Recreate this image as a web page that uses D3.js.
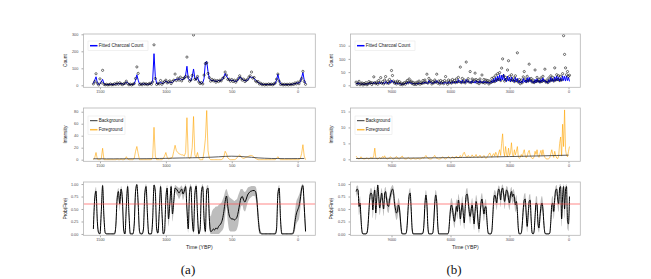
<!DOCTYPE html>
<html>
<head>
<meta charset="utf-8">
<script src="https://cdn.jsdelivr.net/npm/d3@7"></script>
<style>
  body { margin: 0; background: #fff; }
  svg { display: block; }
</style>
</head>
<body>
<script>
// ---- data: record (a), sampled every 10 years (1550 .. -60 YBP)
const yearsA = d3.range(1550, -61, -10)
const countA = [8,22,68,12,2,
  38,15,88,6,3,6,2,4,8,3, 4,9,5,14,6,15,8,4,9,12, 24,10,3,7,2,6,10,40,108,70,
  4,8,3,11,6,9,4,8,12,6, 20,238,40,5,12,8,28,6,16,22, 30,14,20,26,10,22,30,66,28,42,
  30,48,26,40,44,52,166,48,24,32, 58,296,35,38,52,20,10,16,8,60, 128,132,70,45,24,35,26,30,18,28,
  22,30,26,40,46,78,60,34,36,24, 34,22,30,18,30,40,56,42,30,36, 22,30,34,48,56,78,42,46,26,20,
  22,8,12,3,7,2,6,3,8,4, 7,3,8,14,36,66,24,5,8,2, 6,3,6,2,7,3,8,5,14,8,
  18,9,26,40,82,22,6]
const fitA = [10,30,50,15,5,
  8,20,35,10,5,5,4,5,6,5, 5,6,8,10,8,12,10,8,6,10, 20,15,6,5,5,5,8,30,62,30,
  8,6,7,8,8,6,7,6,8,10, 30,186,50,10,8,12,20,10,12,18, 25,18,15,20,15,18,25,35,32,38,
  35,40,32,35,38,60,112,40,30,25, 50,96,40,30,50,25,15,12,15,40, 135,140,80,40,30,28,30,25,22,25,
  28,25,30,35,50,70,55,40,30,28, 30,28,25,22,25,35,50,45,35,30, 28,25,30,40,50,45,48,40,30,25,
  18,12,8,6,5,5,4,5,5,6, 5,6,5,10,30,65,30,8,5,4, 4,5,4,5,4,5,6,8,10,12,
  15,12,20,45,75,30,10]
const fgA = [0,3,12,1,0,
  0,2,19,0,0,0,0,0,0,0, 0,0,0,1,0,0,1,0,0,1, 5,1,0,0,0,0,2,14,22,10,
  0,0,0,0,0,0,0,0,0,0, 4,54,6,0,0,0,0,0,2,6, 12,4,1,2,3,4,14,24,15,12,
  10,9,8,8,6,12,70,5,2,4, 20,72,8,4,12,2,0,0,0,14, 35,82,15,2,0,0,0,0,0,0,
  0,0,0,1,5,14,10,3,1,0, 0,0,0,1,3,6,8,5,3,2, 3,4,5,6,7,7,6,4,2,1,
  0,0,0,0,0,0,0,0,0,0, 0,0,0,0,2,5,2,0,0,0, 0,0,0,0,0,0,0,0,0,0,
  0,0,2,10,25,6,0]
const bgYearsA = d3.range(1550, -51, -50)
const bgA = [1.5,1.5,1.4,1.4,1.5,1.5,1.6,1.6,1.7,1.8,2.0,2.2,2.5,2.8,3.0,3.2,3.4,3.8,4.2,4.8,
  5.5,5.8,5.5,4.8,4.0,3.0,2.4,2.0,1.9,1.8,1.8,1.9,2.0]
// probability of fire, in percent, with its band
const probA = [10,70,86,25,2,
  0,45,97,35,2,0,0,0,0,0, 0,0,15,70,85,60,90,70,8,0, 55,95,40,0,0,0,20,85,99,60,
  5,0,0,10,80,95,40,0,0,0, 30,98,85,10,2,45,95,45,0,5, 70,92,30,60,95,40,65,92,90,86,
  82,86,90,80,86,95,50,10,85,95, 30,5,80,96,40,0,10,85,95,30, 5,88,92,30,5,6,10,8,12,10,
  15,18,22,30,45,65,76,55,38,32, 30,30,28,30,34,45,60,72,75,68, 64,70,78,82,85,86,87,87,85,70,
  35,8,1,0,0,0,0,0,0,0, 0,0,0,0,10,80,92,30,0,0, 0,0,0,0,0,0,0,5,25,40,
  48,55,70,90,97,55,5]
const loA = [2,55,75,12,0,
  0,30,88,20,0,0,0,0,0,0, 0,0,5,55,72,45,80,55,0,0, 40,85,25,0,0,0,8,72,92,45,
  0,0,0,2,65,86,25,0,0,0, 15,90,72,2,0,30,86,30,0,0, 55,82,15,45,86,25,50,84,80,76,
  70,75,80,68,76,86,35,2,72,86, 15,0,65,88,25,0,2,72,86,15, 0,76,82,12,0,0,0,0,0,0,
  0,2,5,8,15,35,55,25,8,5, 5,5,5,6,10,20,40,55,58,48, 45,52,62,68,72,74,76,76,72,52,
  18,0,0,0,0,0,0,0,0,0, 0,0,0,0,2,65,82,15,0,0, 0,0,0,0,0,0,0,0,8,20,
  25,30,50,78,90,35,0]
const hiA = [20,82,94,38,6,
  3,60,100,50,5,2,2,2,2,2, 2,3,28,82,92,75,96,82,18,3, 70,100,55,3,2,3,32,94,100,75,
  12,3,2,20,90,100,55,3,2,2, 45,100,94,20,8,60,100,60,4,14, 82,98,45,75,100,55,78,98,96,94,
  92,94,97,90,94,100,65,20,94,100, 45,14,90,100,55,4,20,94,100,45, 15,96,98,55,35,45,50,52,55,55,
  58,60,62,68,75,85,90,82,75,72, 70,68,66,68,70,78,85,90,90,86, 84,87,92,94,95,96,96,96,95,85,
  52,20,6,2,2,2,2,2,2,2, 2,2,2,3,22,90,98,45,4,2, 2,2,2,2,2,2,3,15,45,65,
  72,78,86,98,100,72,15]

// ---- data: record (b), sampled every 50 years (10800 .. -50 YBP)
const yearsB = d3.range(10800, -51, -50)
const countB = [12,3,8,15,2,6,9,1,7,4,10,2,5,14,8,11,3,9,32,10,
  6,12,4,18,10,29,8,14,5,20,33,9,15,7,22,12,56,37,16,8,
  12,5,16,9,14,3,8,2,6,10,4,12,18,9,24,13,16,6,11,3,
  9,3,12,6,16,4,10,7,18,9,20,11,42,8,26,14,18,5,14,9,
  20,12,42,8,16,5,18,9,14,6,18,33,12,4,20,10,16,8,22,12,
  18,10,24,12,30,14,69,10,26,12,20,9,88,16,25,12,52,10,24,14,
  20,46,22,10,18,6,24,12,39,10,22,8,20,12,18,5,16,10,26,14,
  30,14,38,20,44,22,48,18,65,100,36,16,30,22,58,93,34,18,40,20,
  28,14,36,18,123,12,22,6,20,10,32,52,24,14,34,16,80,20,26,12,
  20,10,58,14,30,16,22,12,28,14,34,18,61,12,20,10,28,16,36,20,
  30,16,66,20,40,22,36,18,34,20,44,188,117,66,40,52,34,38]
const fitB = [8,4,10,5,7,3,6,4,5,3,6,4,7,5,10,6,8,5,12,7,
  9,5,10,6,12,7,10,5,11,6,14,8,10,6,15,9,20,12,14,8,
  10,6,9,5,8,4,6,3,5,4,8,5,12,7,14,8,10,5,8,4,
  7,4,8,5,10,6,8,5,11,7,13,8,10,6,18,10,12,6,10,7,
  15,9,18,10,12,6,12,7,10,6,13,8,10,6,14,8,12,7,15,9,
  14,8,16,9,22,12,15,8,20,10,14,8,22,12,18,10,14,8,18,10,
  14,8,18,10,15,8,18,9,14,8,16,9,15,8,13,7,12,8,18,10,
  25,12,30,14,35,18,40,16,38,20,42,18,26,14,35,16,30,14,32,15,
  22,12,30,14,26,10,18,8,16,9,26,12,20,10,28,12,30,14,20,10,
  15,8,22,10,25,12,18,9,22,12,28,14,20,10,16,8,22,12,30,15,
  25,14,32,16,35,18,30,15,28,16,36,18,34,16,35,18,30,15]
const fgB = [1.0,0.6,0.2,0.1,0.3,0.8,0.4,0.1,0.2,0.1,0.3,0.5,0.2,0.1,0.3,0.6,0.4,0.3,1.2,3.5,
  0.6,0.2,0.1,0.3,0.6,0.2,0.4,0.9,0.5,1.1,0.4,0.2,0.1,0.3,0.5,0.8,0.4,0.2,0.1,0.3,
  0.5,0.9,0.4,0.2,0.1,0.3,0.8,1.0,0.4,0.2,0.1,0.1,0.3,0.6,0.3,0.1,0.1,0.2,0.4,0.2,
  0.1,0.1,0.2,0.3,0.1,0.1,0.2,0.4,0.6,0.3,0.8,1.2,0.7,0.3,0.2,0.1,0.1,0.2,0.5,0.9,
  1.2,0.6,0.3,0.2,0.1,0.1,0.2,0.4,0.8,0.5,0.2,0.1,0.3,0.6,0.9,0.4,0.2,0.5,0.8,0.4,
  0.3,0.6,1.0,0.5,0.4,0.8,1.2,0.6,0.9,1.8,2.2,1.4,0.8,0.6,1.2,0.9,0.5,0.8,1.4,0.9,
  0.6,1.0,1.5,0.8,0.5,0.9,1.3,0.7,0.4,0.8,1.2,0.6,0.3,0.5,1.0,1.6,2.0,1.2,0.6,1.4,
  1.8,1.0,2.2,1.5,0.6,2.0,3.0,1.2,5.0,8.0,2.5,1.0,4.0,1.5,0.8,3.5,1.2,2.0,5.2,1.5,
  0.8,3.0,1.4,2.5,4.0,0.8,0.3,0.6,1.5,0.8,2.0,3.0,1.2,0.5,1.0,2.2,2.8,1.4,0.6,0.3,
  0.2,0.8,2.5,1.5,3.0,1.0,0.6,1.8,2.8,1.2,3.0,1.4,0.6,0.2,0.1,0.1,0.2,0.5,1.8,3.0,
  1.5,0.6,2.5,1.2,0.4,0.2,1.0,5.0,7.0,1.0,11,4.0,15.5,3.0,1.2,0.8,2.5,4.0]
const bgYearsB = d3.range(10800, -1, -600)
const bgB = [0.25,0.28,0.3,0.33,0.36,0.4,0.44,0.48,0.52,0.58,0.64,0.7,0.78,0.86,0.94,1.02,1.1,1.2,1.3]
const probB = [85,90,88,55,62,30,5,0,0,0,0,2,15,45,75,82,80,48,75,88,
  42,70,98,75,52,68,82,65,50,80,85,70,58,55,68,78,86,90,85,62,
  50,42,45,58,52,30,8,0,0,0,0,2,20,55,78,82,50,10,0,0,
  0,0,0,0,0,0,0,0,2,20,60,78,60,15,0,0,0,0,2,25,
  62,78,65,20,0,0,0,0,0,0,0,0,0,0,3,25,50,58,50,35,
  25,40,55,45,68,55,30,48,62,40,22,55,78,80,65,45,35,48,58,40,
  20,45,65,55,25,10,35,62,70,55,40,52,55,30,5,0,0,0,5,35,
  70,78,72,62,80,90,85,68,88,92,80,65,78,88,85,70,62,78,85,75,
  80,72,58,65,45,10,0,0,2,20,50,68,70,40,15,40,65,68,30,2,
  0,5,35,62,60,20,12,35,55,62,50,20,2,0,0,0,0,2,25,58,
  62,45,70,88,90,70,60,92,95,30,75,95,50,88,95,25,20,75]
const loB = [72,80,75,38,45,15,0,0,0,0,0,0,5,30,62,70,66,32,60,76,
  28,55,88,60,38,52,70,50,36,66,72,56,44,42,54,64,74,80,72,48,
  36,28,32,44,38,15,0,0,0,0,0,0,8,40,66,70,35,2,0,0,
  0,0,0,0,0,0,0,0,0,8,45,66,45,4,0,0,0,0,0,10,
  48,66,50,8,0,0,0,0,0,0,0,0,0,0,0,12,36,44,36,22,
  12,26,40,30,54,40,16,34,48,26,10,40,64,66,50,30,20,34,44,26,
  8,30,50,40,12,2,20,48,56,40,26,38,40,16,0,0,0,0,0,20,
  56,66,58,48,68,80,72,54,76,82,68,50,64,76,72,56,48,64,72,60,
  66,58,44,50,30,2,0,0,0,8,35,54,56,26,4,26,50,54,16,0,
  0,0,20,48,45,8,3,20,40,48,36,8,0,0,0,0,0,0,10,42,
  46,30,54,74,78,54,44,80,84,15,58,84,32,72,82,10,6,56]
const hiB = [94,97,96,70,76,45,14,2,2,2,2,6,26,60,86,92,90,64,86,96,
  58,84,100,88,66,82,92,78,64,90,94,82,72,70,80,90,95,98,94,76,
  64,56,60,72,66,45,18,2,2,2,2,6,32,70,88,92,65,20,3,2,
  2,2,2,2,2,2,2,3,6,32,74,88,74,28,3,2,2,2,6,40,
  76,88,78,34,3,2,2,2,2,2,2,2,2,2,8,38,64,72,64,50,
  40,55,70,60,80,70,45,62,76,55,36,70,90,92,78,60,50,62,72,55,
  35,60,78,70,40,22,50,76,82,70,55,66,70,45,14,3,2,3,14,50,
  82,88,84,75,90,97,94,80,96,99,90,78,88,96,94,82,76,90,94,86,
  90,84,72,78,60,22,3,2,6,34,65,80,82,55,28,55,78,80,45,8,
  3,14,50,76,74,34,24,50,70,76,64,34,8,2,2,2,2,6,40,72,
  76,60,84,96,98,84,75,99,100,48,88,100,68,97,100,42,36,88]

// ---- ticks and reference line
const xTicksA = [1500, 1000, 500, 0]
const xTicksB = [9000, 6000, 3000, 0]
const countTicksA = [0, 100, 200, 300]
const countTicksB = [0, 50, 100, 150]
const intTicksA = [0, 20, 40, 60, 80]
const intTicksB = [0, 5, 10, 15]
const probTicks = [0, 0.25, 0.5, 0.75, 1]
const fireThreshold = 0.6

const svg = d3.select('body').append('svg').attr('width', 651).attr('height', 279)
svg.append('rect').attr('width', 651).attr('height', 279).attr('fill', '#fff')

const FONT = "'Liberation Sans', Arial, Helvetica, sans-serif"
const rows = [
    {y0: 34, y1: 87.3},
    {y0: 108, y1: 161.3},
    {y0: 182, y1: 235.3}
]

const panels = [
    {id: 'a', x0: 83.5, x1: 315.3, xDomain: [1625, -134], xTicks: xTicksA, titleX: 65,
     label: '(a)', labelX: 188,
     years: yearsA, count: countA, fit: fitA, fg: fgA, bgYears: bgYearsA, bg: bgA,
     prob: probA, lo: loA, hi: hiA,
     countDomain: [-11.8, 301.8], countTicks: countTicksA,
     intDomain: [-2.7, 86.2], intTicks: intTicksA},
    {id: 'b', x0: 350.5, x1: 580.3, xDomain: [11085, -600], xTicks: xTicksB, titleX: 331.5,
     label: '(b)', labelX: 454,
     years: yearsB, count: countB, fit: fitB, fg: fgB, bgYears: bgYearsB, bg: bgB,
     prob: probB, lo: loB, hi: hiB,
     countDomain: [-7.6, 194.3], countTicks: countTicksB,
     intDomain: [-0.63, 16.1], intTicks: intTicksB}
]

function styleAxis(a) {
    a.attr('font-family', FONT).attr('font-size', 3.8)
    a.select('.domain').remove()
    a.selectAll('.tick line').attr('stroke', '#555').attr('stroke-width', 0.5)
    a.selectAll('.tick text').attr('fill', '#4d4d4d')
}

function frame(g, p, x, row, y, yTicks, yFmt, title) {
    let ya = g.append('g')
        .attr('transform', `translate(${p.x0},0)`)
        .call(d3.axisLeft(y).tickValues(yTicks).tickSize(2).tickPadding(3.2).tickFormat(yFmt))
    styleAxis(ya)

    let xa = g.append('g')
        .attr('transform', `translate(0,${row.y1})`)
        .call(d3.axisBottom(x).tickValues(p.xTicks).tickSize(2).tickPadding(1).tickFormat(d3.format('d')))
    styleAxis(xa)

    g.append('rect')
        .attr('x', p.x0).attr('y', row.y0)
        .attr('width', p.x1 - p.x0).attr('height', row.y1 - row.y0)
        .attr('fill', 'none').attr('stroke', '#b5b5b5').attr('stroke-width', 0.8)

    g.append('text')
        .attr('transform', `translate(${p.titleX},${(row.y0 + row.y1) / 2}) rotate(-90)`)
        .attr('text-anchor', 'middle')
        .attr('dy', '0.35em')
        .attr('font-family', FONT).attr('font-size', 4.8).attr('fill', '#222')
        .text(title)
}

function legend(g, p, y0, entries) {
    let h = entries.length * 9 + 0.6
    let w = d3.max(entries, e => e.w)
    g.append('rect')
        .attr('x', p.x0 + 4.5).attr('y', y0)
        .attr('width', w).attr('height', h)
        .attr('fill', '#fff').attr('stroke', '#e3e3e3').attr('stroke-width', 0.5)
    entries.forEach((e, i) => {
        let cy = y0 + 4.7 + i * 9
        g.append('line')
            .attr('x1', p.x0 + 6.5).attr('x2', p.x0 + 14)
            .attr('y1', cy).attr('y2', cy)
            .attr('stroke', e.color).attr('stroke-width', e.width)
            .attr('stroke-opacity', e.opacity || 1)
        g.append('text')
            .attr('x', p.x0 + 15.2).attr('y', cy)
            .attr('dy', '0.35em')
            .attr('font-family', FONT).attr('font-size', 4.6).attr('fill', '#222')
            .text(e.text)
    })
}

panels.forEach(p => {
    const x = d3.scaleLinear().domain(p.xDomain).range([p.x0, p.x1])
    const g = svg.append('g').attr('class', 'panel-' + p.id)

    rows.forEach((r, i) => {
        svg.append('clipPath').attr('id', `clip-${p.id}-${i}`)
            .append('rect')
            .attr('x', p.x0).attr('y', r.y0)
            .attr('width', p.x1 - p.x0).attr('height', r.y1 - r.y0)
    })

    // --- counts
    const r1 = rows[0]
    const yCount = d3.scaleLinear().domain(p.countDomain).range([r1.y1, r1.y0])
    const countData = p.years.map((yr, i) => ({yr, obs: p.count[i], fit: p.fit[i]}))
    const g1 = g.append('g').attr('clip-path', `url(#clip-${p.id}-0)`)
    g1.append('path')
        .datum(countData)
        .attr('fill', 'none').attr('stroke', '#0000ff').attr('stroke-width', 1)
        .attr('stroke-linejoin', 'round')
        .attr('d', d3.line().x(d => x(d.yr)).y(d => yCount(d.fit)))
    g1.selectAll('circle.obs')
        .data(countData)
        .enter()
        .append('circle')
        .classed('obs', true)
        .attr('cx', d => x(d.yr))
        .attr('cy', d => yCount(d.obs))
        .attr('r', 1.1)
        .attr('fill', 'none').attr('stroke', '#000').attr('stroke-width', 0.55)
    frame(g, p, x, r1, yCount, p.countTicks, d3.format('d'), 'Count')
    legend(g, p, 41, [{text: 'Fitted Charcoal Count', color: '#0000ff', width: 1.5, w: 60}])

    // --- intensities
    const r2 = rows[1]
    const yInt = d3.scaleLinear().domain(p.intDomain).range([r2.y1, r2.y0])
    const g2 = g.append('g').attr('clip-path', `url(#clip-${p.id}-1)`)
    const bgData = p.bgYears.map((yr, i) => ({yr, v: p.bg[i]}))
    const fgData = p.years.map((yr, i) => ({yr, v: p.fg[i]}))
    g2.append('path')
        .datum(fgData)
        .attr('fill', 'none').attr('stroke', '#ffa500').attr('stroke-opacity', 0.75)
        .attr('stroke-width', 0.8).attr('stroke-linejoin', 'round')
        .attr('d', d3.line().x(d => x(d.yr)).y(d => yInt(d.v)))
    g2.append('path')
        .datum(bgData)
        .attr('fill', 'none').attr('stroke', '#333').attr('stroke-width', 0.8)
        .attr('d', d3.line().curve(d3.curveMonotoneX).x(d => x(d.yr)).y(d => yInt(d.v)))
    frame(g, p, x, r2, yInt, p.intTicks, d3.format('d'), 'Intensity')
    legend(g, p, 116, [
        {text: 'Background', color: '#333', width: 1, w: 37},
        {text: 'Foreground', color: '#ffa500', width: 1.5, opacity: 0.75, w: 37}
    ])

    // --- probability of fire
    const r3 = rows[2]
    const yProb = d3.scaleLinear().domain([-0.027, 1.041]).range([r3.y1, r3.y0])
    const probData = p.years.map((yr, i) => ({yr, p: p.prob[i] / 100, lo: p.lo[i] / 100, hi: p.hi[i] / 100}))
    const g3 = g.append('g').attr('clip-path', `url(#clip-${p.id}-2)`)
    g3.append('path')
        .datum(probData)
        .attr('fill', '#bdbdbd')
        .attr('d', d3.area().curve(d3.curveMonotoneX)
            .x(d => x(d.yr)).y0(d => yProb(d.lo)).y1(d => yProb(d.hi)))
    g3.append('path')
        .datum(probData)
        .attr('fill', 'none').attr('stroke', '#000').attr('stroke-width', 1)
        .attr('d', d3.line().curve(d3.curveMonotoneX).x(d => x(d.yr)).y(d => yProb(d.p)))
    g3.append('line')
        .attr('x1', p.x0).attr('x2', p.x1)
        .attr('y1', yProb(fireThreshold)).attr('y2', yProb(fireThreshold))
        .attr('stroke', '#ff4d4d').attr('stroke-opacity', 0.85).attr('stroke-width', 0.8)
    frame(g, p, x, r3, yProb, probTicks, d3.format('.2f'), 'Prob(Fire)')

    g.append('text')
        .attr('x', (p.x0 + p.x1) / 2).attr('y', 248.5)
        .attr('text-anchor', 'middle')
        .attr('font-family', FONT).attr('font-size', 5.2).attr('fill', '#222')
        .text('Time (YBP)')

    g.append('text')
        .attr('x', p.labelX).attr('y', 274)
        .attr('text-anchor', 'middle')
        .attr('font-family', "'Liberation Serif', 'DejaVu Serif', serif")
        .attr('font-size', 13).attr('fill', '#111')
        .text(p.label)
})
</script>
</body>
</html>
